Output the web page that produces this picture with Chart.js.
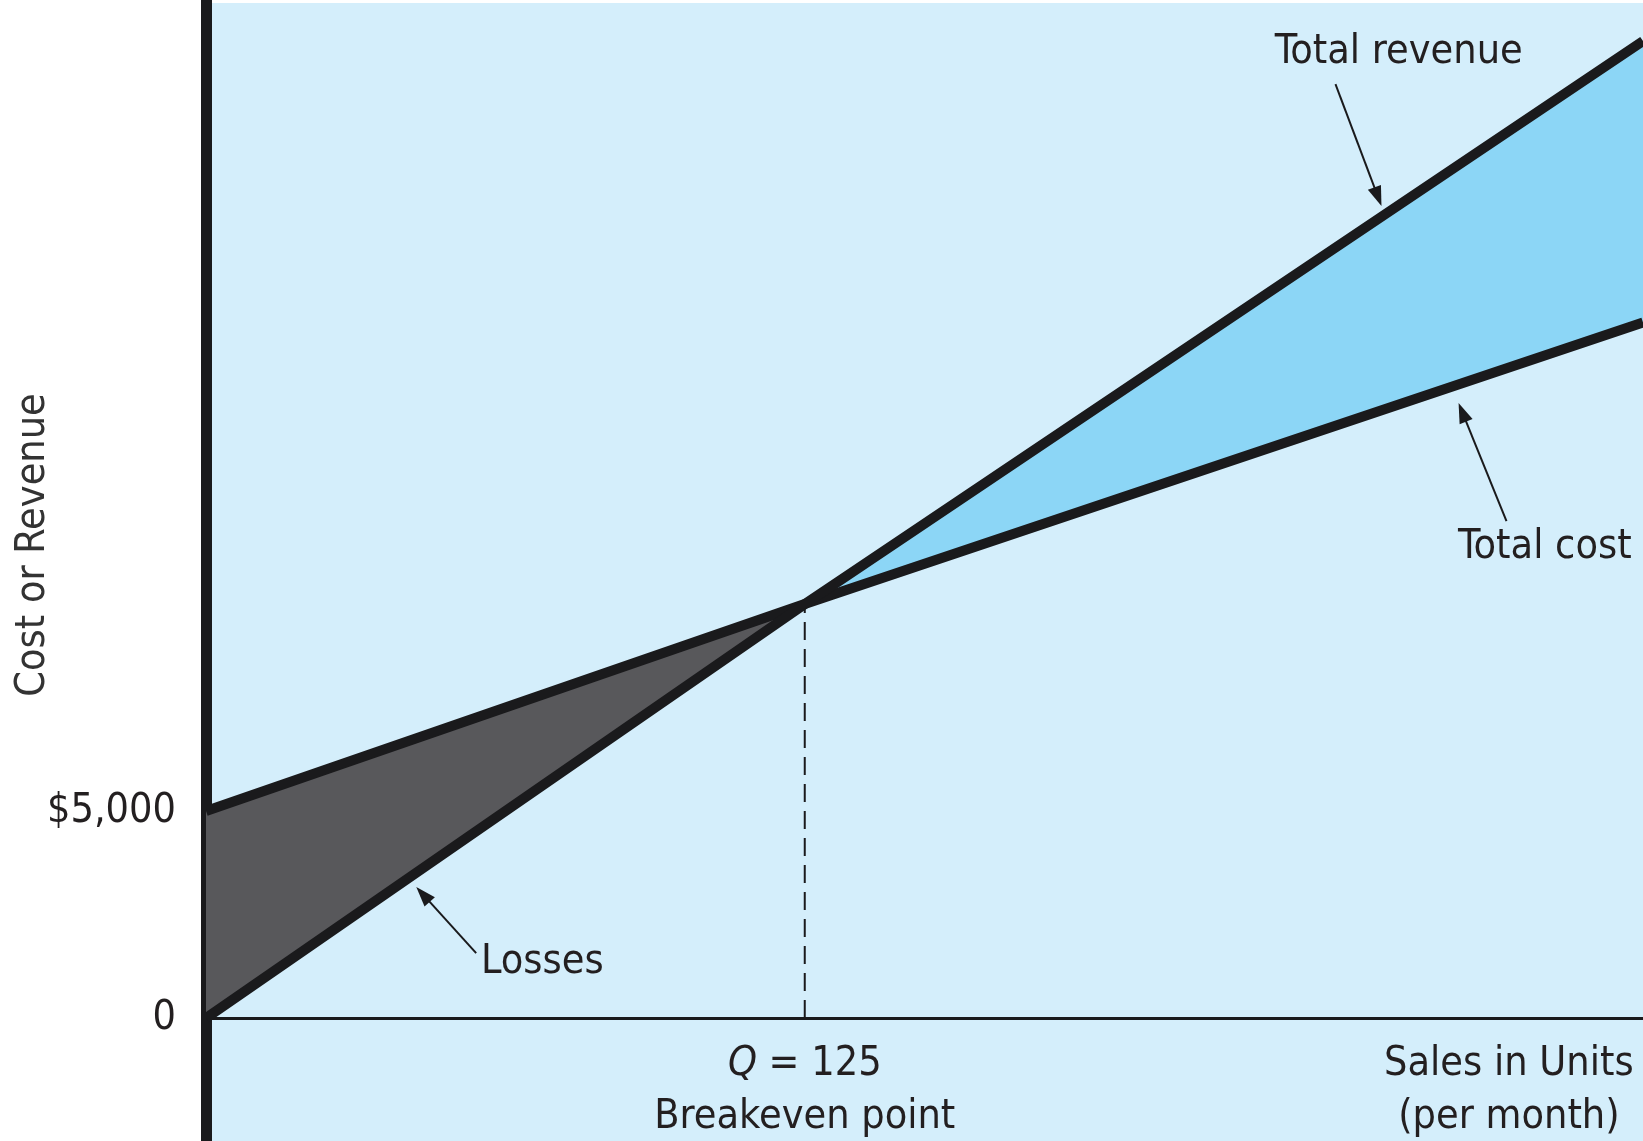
<!DOCTYPE html>
<html>
<head>
<meta charset="utf-8">
<script src="https://cdn.jsdelivr.net/npm/chart.js@4.4.1/dist/chart.umd.min.js"></script>
<style>
  html, body { margin: 0; padding: 0; background: #ffffff; }
  #wrap { width: 1643px; height: 1141px; }
</style>
</head>
<body>
<div id="wrap"><canvas id="breakeven"></canvas></div>
<script>
// values
const units = [0, 125, 300];
const totalRevenue = [0, 10000, 23600];
const totalCost = [5000, 10000, 16800];
const breakevenQ = 125;
const breakevenValue = 10000;
const yTickValues = [0, 5000];
const yTickLabels = ['0', '$5,000'];
const xLabelUnits = [125, 272];

const FONT = '"Liberation Sans Narrow", "DejaVu Sans Condensed", "Liberation Sans", sans-serif';
const TEXT = '#231f20';
const LINE = '#1a1a1c';
const BG = '#d4eefb';
const PROFIT = '#8cd6f6';
const LOSS = '#58585b';

function arrow(ctx, x1, y1, x2, y2) {
    const ang = Math.atan2(y2 - y1, x2 - x1);
    const len = 20, half = 7;
    ctx.save();
    ctx.strokeStyle = LINE;
    ctx.fillStyle = LINE;
    ctx.lineWidth = 2;
    ctx.beginPath();
    ctx.moveTo(x1, y1);
    ctx.lineTo(x2 - Math.cos(ang) * len * 0.8, y2 - Math.sin(ang) * len * 0.8);
    ctx.stroke();
    ctx.beginPath();
    ctx.moveTo(x2, y2);
    ctx.lineTo(x2 - Math.cos(ang) * len + Math.sin(ang) * half, y2 - Math.sin(ang) * len - Math.cos(ang) * half);
    ctx.lineTo(x2 - Math.cos(ang) * len - Math.sin(ang) * half, y2 - Math.sin(ang) * len + Math.cos(ang) * half);
    ctx.closePath();
    ctx.fill();
    ctx.restore();
}

const decor = {
    id: 'decor',
    beforeDraw(chart) {
        const { ctx, chartArea: a } = chart;
        ctx.save();
        ctx.fillStyle = '#ffffff';
        ctx.fillRect(0, 0, chart.width, chart.height);
        ctx.fillStyle = BG;
        ctx.fillRect(a.left, a.top, a.right - a.left, a.bottom - a.top);
        ctx.restore();
    },
    afterDraw(chart) {
        const { ctx } = chart;
        const xs = chart.scales.x, ys = chart.scales.y;
        const px = v => xs.getPixelForValue(v);
        const py = v => ys.getPixelForValue(v);
        const base = py(0);

        ctx.save();
        ctx.fillStyle = TEXT;
        ctx.textBaseline = 'middle';
        ctx.font = '41px ' + FONT;

        // line labels + arrows
        ctx.textAlign = 'center';
        ctx.fillText('Total revenue', px(249), py(23330));
        arrow(ctx, px(235.8), py(22560), px(245.4), py(19614));
        ctx.fillText('Total cost', px(279.5), py(11380));
        arrow(ctx, px(271.5), py(12005), px(261.5), py(14855));
        ctx.fillText('Losses', px(70.2), py(1350));
        arrow(ctx, px(56.4), py(1570), px(43.9), py(3164));

        // x labels under the axis
        const row1 = base + 46, row2 = base + 99;
        const qx = px(xLabelUnits[0]);
        ctx.font = 'italic 41px ' + FONT;
        const wq = ctx.measureText('Q').width;
        ctx.font = '41px ' + FONT;
        const rest = ' = 125';
        const wr = ctx.measureText(rest).width;
        ctx.textAlign = 'left';
        ctx.font = 'italic 41px ' + FONT;
        ctx.fillText('Q', qx - (wq + wr) / 2, row1);
        ctx.font = '41px ' + FONT;
        ctx.fillText(rest, qx - (wq + wr) / 2 + wq, row1);
        ctx.textAlign = 'center';
        ctx.fillText('Breakeven point', qx, row2);
        ctx.fillText('Sales in Units', px(xLabelUnits[1]), row1);
        ctx.fillText('(per month)', px(xLabelUnits[1]), row2);

        // y axis title
        ctx.translate(33, 545);
        ctx.rotate(-Math.PI / 2);
        ctx.fillStyle = '#333333';
        ctx.fillText('Cost or Revenue', 0, 0);
        ctx.restore();
    }
};

const pts = ys => units.map((u, i) => ({ x: u, y: ys[i] }));

new Chart(document.getElementById('breakeven'), {
    type: 'line',
    data: {
        datasets: [
            {
                label: 'Total revenue',
                data: pts(totalRevenue),
                borderColor: LINE,
                borderWidth: 10,
                pointRadius: 0,
                fill: { target: 1, above: PROFIT, below: LOSS }
            },
            {
                label: 'Total cost',
                data: pts(totalCost),
                borderColor: LINE,
                borderWidth: 10,
                pointRadius: 0,
                fill: false
            },
            {
                label: 'Breakeven',
                data: [{ x: breakevenQ, y: 0 }, { x: breakevenQ, y: breakevenValue }],
                borderColor: LINE,
                borderWidth: 2,
                borderDash: [18, 9],
                pointRadius: 0,
                fill: false
            }
        ]
    },
    options: {
        responsive: true,
        maintainAspectRatio: false,
        animation: false,
        layout: { autoPadding: false, padding: { top: 3, left: 0, right: 0, bottom: 0 } },
        scales: {
            x: { type: 'linear', min: 0, max: 300, display: false },
            y: {
                type: 'linear',
                min: -2970,
                max: 24520,
                afterBuildTicks: s => { s.ticks = yTickValues.map(v => ({ value: v })); },
                afterFit: s => { s.width = 206; s.paddingTop = 0; s.paddingBottom = 0; },
                ticks: {
                    padding: 30,
                    color: TEXT,
                    font: { family: FONT, size: 41 },
                    callback: v => yTickLabels[yTickValues.indexOf(v)]
                },
                grid: {
                    drawTicks: false,
                    lineWidth: 3,
                    color: c => (c.tick && c.tick.value === 0) ? LINE : 'rgba(0,0,0,0)'
                },
                border: { display: true, color: LINE, width: 11 }
            }
        },
        plugins: {
            legend: { display: false },
            tooltip: { enabled: false },
            filler: { drawTime: 'beforeDatasetsDraw' }
        }
    },
    plugins: [decor]
});
</script>
</body>
</html>
